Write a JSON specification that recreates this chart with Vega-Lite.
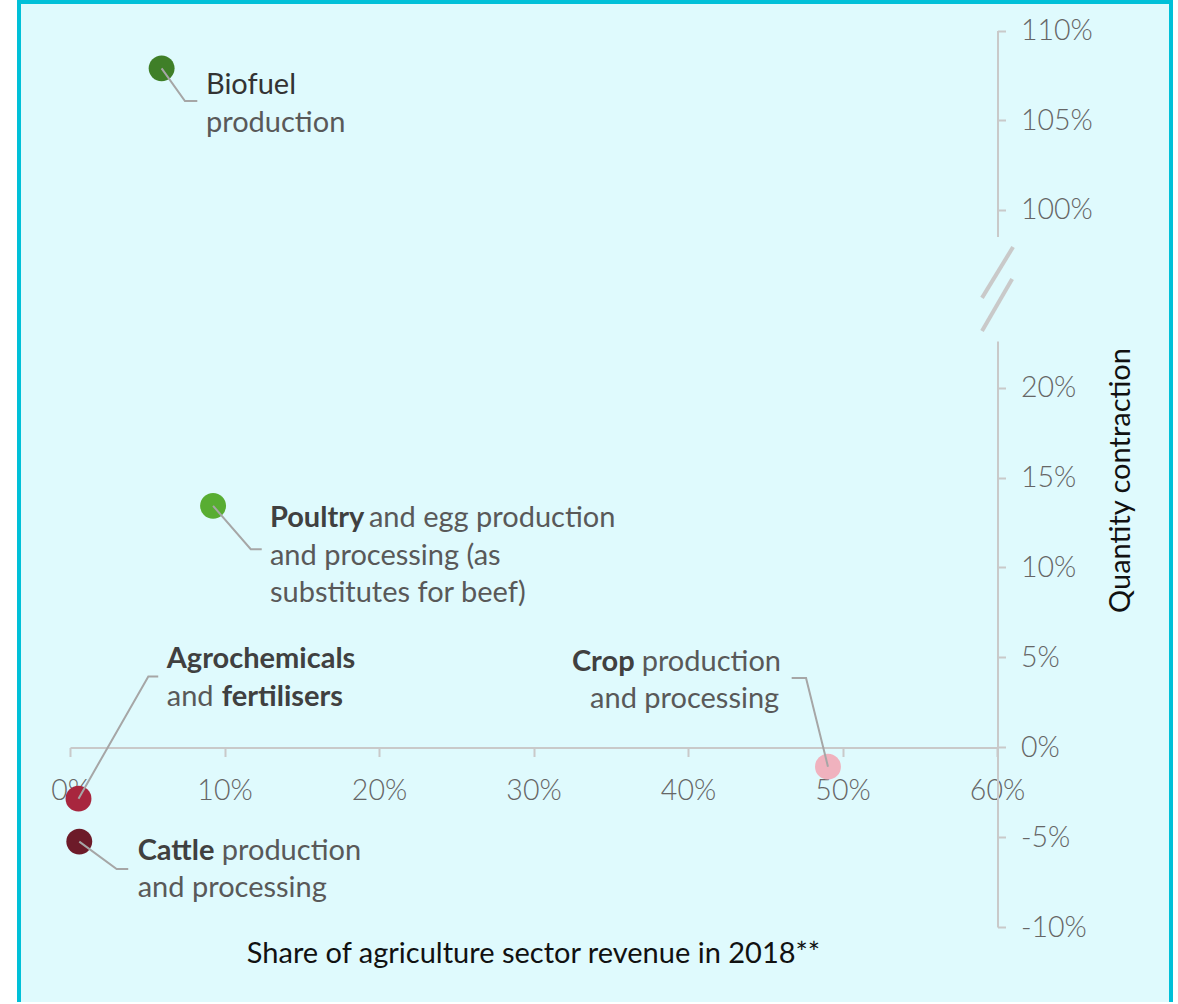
{
  "$schema": "https://vega.github.io/schema/vega-lite/v6.json",
  "width": 1152,
  "height": 1000,
  "autosize": {"type": "none"},
  "padding": {"left": 19, "top": 2, "right": 7, "bottom": 2},
  "background": "#ffffff",
  "config": {
    "view": {"stroke": "#00c0d8", "strokeWidth": 4, "fill": "#dffafd", "strokeDash": [2152, 1152, 1000]},
    "font": "Lato",
    "axis": {
      "grid": false,
      "domainColor": "#c9c9c9",
      "domainWidth": 2,
      "tickColor": "#c9c9c9",
      "tickWidth": 2,
      "labelFont": "Lato",
      "labelFontSize": 28.5,
      "labelFontWeight": 300,
      "labelColor": "#666666",
      "titleFont": "Lato",
      "titleFontWeight": "normal",
      "titleColor": "#111111",
      "titleFontSize": 29
    }
  },
  "datasets": {
    "pointsLow": [
      {"sector": "Poultry", "x": 0.0926, "y": 0.1343},
      {"sector": "Agrochemicals", "x": 0.0055, "y": -0.0286},
      {"sector": "Cattle", "x": 0.006, "y": -0.0525},
      {"sector": "Crop", "x": 0.4906, "y": -0.0108}
    ],
    "pointsHigh": [
      {"sector": "Biofuel", "x": 0.0593, "y": 1.0789}
    ],
    "leadersLow": [
      {"sector": "Poultry", "step": 0, "x": 0.0926, "y": 0.1343},
      {"sector": "Poultry", "step": 1, "x": 0.117, "y": 0.1102},
      {"sector": "Poultry", "step": 2, "x": 0.1241, "y": 0.1102},
      {"sector": "Agrochemicals", "step": 0, "x": 0.0055, "y": -0.0286},
      {"sector": "Agrochemicals", "step": 1, "x": 0.0507, "y": 0.0394},
      {"sector": "Agrochemicals", "step": 2, "x": 0.0571, "y": 0.0394},
      {"sector": "Cattle", "step": 0, "x": 0.006, "y": -0.0525},
      {"sector": "Cattle", "step": 1, "x": 0.0302, "y": -0.0677},
      {"sector": "Cattle", "step": 2, "x": 0.0377, "y": -0.0677},
      {"sector": "Crop", "step": 0, "x": 0.4906, "y": -0.0108},
      {"sector": "Crop", "step": 1, "x": 0.4764, "y": 0.0385},
      {"sector": "Crop", "step": 2, "x": 0.4671, "y": 0.0385}
    ],
    "leadersHigh": [
      {"sector": "Biofuel", "step": 0, "x": 0.0593, "y": 1.0789},
      {"sector": "Biofuel", "step": 1, "x": 0.0744, "y": 1.0607},
      {"sector": "Biofuel", "step": 2, "x": 0.0824, "y": 1.0607}
    ],
    "labelsLow": [
      {"text": "Poultry", "weight": "bold", "x": 0.1294, "y": 0.1223},
      {"text": "and egg production", "weight": "regular", "x": 0.1935, "y": 0.1223},
      {"text": "and processing (as", "weight": "regular", "x": 0.1294, "y": 0.1015},
      {"text": "substitutes for beef)", "weight": "regular", "x": 0.1294, "y": 0.0806},
      {"text": "Agrochemicals", "weight": "bold", "x": 0.0626, "y": 0.044},
      {"text": "and", "weight": "regular", "x": 0.0626, "y": 0.0231},
      {"text": "fertilisers", "weight": "bold", "x": 0.0982, "y": 0.0231},
      {"text": "Cattle", "weight": "bold", "x": 0.0438, "y": -0.0626},
      {"text": "production", "weight": "regular", "x": 0.0982, "y": -0.0626},
      {"text": "and processing", "weight": "regular", "x": 0.0438, "y": -0.0835},
      {"text": "Crop", "weight": "bold", "x": 0.3249, "y": 0.0425},
      {"text": "production", "weight": "regular", "x": 0.37, "y": 0.0425},
      {"text": "and processing", "weight": "regular", "x": 0.3366, "y": 0.0218}
    ],
    "labelsHigh": [
      {"text": "Biofuel", "weight": "name", "x": 0.088, "y": 1.0646},
      {"text": "production", "weight": "regular", "x": 0.088, "y": 1.0435}
    ],
    "axisBreak": [
      {"x": 0.5903, "x2": 0.6104, "y": 0.25, "y2": 0.2783},
      {"x": 0.5903, "x2": 0.6098, "y": 0.2316, "y2": 0.2605}
    ]
  },
  "encoding": {
    "x": {
      "field": "x",
      "type": "quantitative",
      "scale": {"domain": [0, 0.6], "range": [51, 978], "nice": false, "zero": false},
      "axis": {
        "orient": "bottom",
        "offset": -254.5,
        "values": [0, 0.1, 0.2, 0.3, 0.4, 0.5, 0.6],
        "format": ".0%",
        "tickSize": 9,
        "labelPadding": 20,
        "labelFlush": false,
        "labelOverlap": false,
        "title": "Share of agriculture sector revenue in 2018**",
        "titleX": 514,
        "titleY": 214.5,
        "titleAlign": "center",
        "titleBaseline": "alphabetic"
      }
    }
  },
  "resolve": {"scale": {"y": "independent"}},
  "layer": [
    {
      "encoding": {
        "y": {
          "field": "y",
          "type": "quantitative",
          "scale": {"domain": [-0.1, 0.226], "range": [925, 339], "nice": false, "zero": false},
          "axis": {
            "orient": "right",
            "offset": -173.5,
            "values": [-0.1, -0.05, 0, 0.05, 0.1, 0.15, 0.2],
            "format": ".0%",
            "labelExpr": "replace(datum.label, '\u2212', '-')",
            "tickSize": 8,
            "labelPadding": 15,
            "labelFlush": false,
            "labelOverlap": false,
            "title": "Quantity contraction",
            "titleAngle": 270,
            "titleX": 123,
            "titleY": 478,
            "titleAlign": "center",
            "titleBaseline": "middle"
          }
        }
      },
      "layer": [
        {
          "data": {"name": "axisBreak"},
          "mark": {"type": "rule", "color": "#c9c9c9", "strokeWidth": 4},
          "encoding": {"x2": {"field": "x2"}, "y2": {"field": "y2"}}
        },
        {
          "data": {"name": "pointsLow"},
          "mark": {"type": "circle", "size": 670, "opacity": 1},
          "encoding": {
            "color": {
              "field": "sector",
              "type": "nominal",
              "scale": {
                "domain": ["Biofuel", "Poultry", "Agrochemicals", "Cattle", "Crop"],
                "range": ["#3f7f28", "#58ad32", "#a8263e", "#6d1b29", "#f0b2be"]
              },
              "legend": null
            }
          }
        },
        {
          "data": {"name": "leadersLow"},
          "mark": {"type": "line", "color": "#a6a6a6", "strokeWidth": 2},
          "encoding": {"detail": {"field": "sector"}, "order": {"field": "step"}}
        },
        {
          "data": {"name": "labelsLow"},
          "transform": [{"filter": "datum.weight === 'bold'"}],
          "mark": {"type": "text", "align": "left", "baseline": "alphabetic", "fontSize": 29, "fontWeight": "bold", "color": "#404040"},
          "encoding": {"text": {"field": "text"}}
        },
        {
          "data": {"name": "labelsLow"},
          "transform": [{"filter": "datum.weight === 'regular'"}],
          "mark": {"type": "text", "align": "left", "baseline": "alphabetic", "fontSize": 29, "fontWeight": "normal", "color": "#595959"},
          "encoding": {"text": {"field": "text"}}
        }
      ]
    },
    {
      "encoding": {
        "y": {
          "field": "y",
          "type": "quantitative",
          "scale": {"domain": [0.9852, 1.1], "range": [234.5, 28.5], "nice": false, "zero": false},
          "axis": {
            "orient": "right",
            "offset": -173.5,
            "values": [1.0, 1.05, 1.1],
            "format": ".0%",
            "tickSize": 8,
            "labelPadding": 15,
            "labelFlush": false,
            "labelOverlap": false,
            "title": null
          }
        }
      },
      "layer": [
        {
          "data": {"name": "pointsHigh"},
          "mark": {"type": "circle", "size": 670, "opacity": 1},
          "encoding": {
            "color": {
              "field": "sector",
              "type": "nominal",
              "scale": {
                "domain": ["Biofuel", "Poultry", "Agrochemicals", "Cattle", "Crop"],
                "range": ["#3f7f28", "#58ad32", "#a8263e", "#6d1b29", "#f0b2be"]
              },
              "legend": null
            }
          }
        },
        {
          "data": {"name": "leadersHigh"},
          "mark": {"type": "line", "color": "#a6a6a6", "strokeWidth": 2},
          "encoding": {"detail": {"field": "sector"}, "order": {"field": "step"}}
        },
        {
          "data": {"name": "labelsHigh"},
          "transform": [{"filter": "datum.weight === 'name'"}],
          "mark": {"type": "text", "align": "left", "baseline": "alphabetic", "fontSize": 29, "fontWeight": "normal", "color": "#333333"},
          "encoding": {"text": {"field": "text"}}
        },
        {
          "data": {"name": "labelsHigh"},
          "transform": [{"filter": "datum.weight === 'regular'"}],
          "mark": {"type": "text", "align": "left", "baseline": "alphabetic", "fontSize": 29, "fontWeight": "normal", "color": "#595959"},
          "encoding": {"text": {"field": "text"}}
        }
      ]
    }
  ]
}
